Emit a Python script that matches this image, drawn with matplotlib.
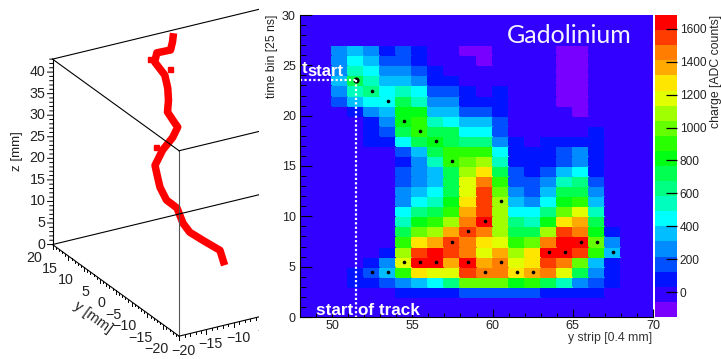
import numpy as np
import matplotlib
matplotlib.use("Agg")
import matplotlib.pyplot as plt
from matplotlib.colors import ListedColormap, BoundaryNorm
from matplotlib.patches import Rectangle
from matplotlib.ticker import MultipleLocator
from mpl_toolkits.mplot3d import proj3d

plt.rcParams["font.family"] = ["Liberation Sans", "DejaVu Sans"]

W, H = 721, 359

# 3D track, mm
track_x = [-0.2, -0.3, -2.7, -4.6, -5.3, -5.6, -7.0, -7.5, -7.4, -7.3, -5.3, -2.9,
           -1.6, -1.9, -2.6, -1.9, -1.4, -1.3, -2.4, -1.6, 0.9, 1.6, 2.2]
track_y = [-0.1, 1.2, 2.4, 3.3, 4.2, 5.6, 6.5, 7.7, 8.9, 9.6, 10.7, 11.6,
           12.3, 12.7, 13.8, 14.7, 15.8, 16.9, 18.2, 18.9, 18.9, 19.5, 20.2]
track_z = [-0.2, 2.6, 5.0, 7.0, 8.8, 11.7, 13.5, 16.0, 18.6, 20.0, 22.3, 24.1,
           25.7, 26.5, 28.7, 30.7, 32.8, 35.2, 37.9, 39.4, 39.3, 40.6, 42.1]
stray_x = [-3.1, -0.2, -6.3]
stray_y = [18.5, 17.3, 11.1]
stray_z = [38.6, 36.0, 23.1]

# heatmap, time bins 26 down to 2, strips 48..69
background = -10
charge_rows = [
    [-10, -10, 260, 350, 260, 80, 170, 80, -10, -10, -100, -100, -10, -10, -10, -10, -100, -100, -10, -10, -10, -10],
    [-10, -10, 260, 440, 350, 170, 170, 80, -10, -10, -10, -100, -10, -10, -10, -10, -100, -100, -10, -10, -10, -10],
    [-10, -10, 260, 540, 440, 260, 260, 170, 80, -10, -10, -10, -10, -10, -10, -10, -100, -100, -10, -10, -10, -10],
    [-10, -10, 350, 720, 540, 350, 350, 260, 80, 80, -10, -10, -10, -10, -10, -10, -100, -100, -10, -10, -10, -10],
    [-10, -10, 260, 540, 630, 440, 540, 440, 170, 170, 80, -10, 80, -10, -10, -10, -100, -100, -10, -10, -10, -10],
    [-10, -10, 170, 350, 440, 440, 720, 540, 260, 260, 80, 80, 80, -10, -10, -10, -100, -100, -10, -10, -10, -10],
    [-10, -10, -10, 80, 260, 350, 810, 810, 350, 350, 170, 170, 80, -10, -10, -10, -10, -100, -10, -10, -10, -10],
    [-10, -10, -10, -10, 80, 260, 810, 900, 540, 440, 350, 350, 170, -10, -10, -10, -10, -10, -10, -10, -10, -10],
    [-10, -10, -10, -10, 80, 170, 720, 900, 720, 720, 440, 440, 170, -10, -10, -10, -10, -10, 80, -10, -10, -10],
    [-10, -10, -10, -10, 80, 80, 440, 720, 810, 720, 630, 630, 260, 80, -10, 80, 80, 80, 80, -10, -10, -10],
    [-10, -10, -10, -10, -10, -10, 170, 350, 720, 900, 900, 900, 440, 80, 80, 80, 170, 260, 80, -10, -10, -10],
    [-10, -10, -10, -10, -10, -10, 80, 260, 540, 900, 990, 1090, 540, 80, 80, 80, 170, 260, 80, -10, -10, -10],
    [-10, -10, -10, -10, -10, -10, 170, 260, 350, 720, 1090, 1270, 720, 170, 80, 170, 350, 440, 80, -10, -10, -10],
    [-10, -10, -10, -10, -10, -10, 170, 260, 350, 720, 1180, 1450, 900, 170, 170, 260, 540, 630, 170, -10, -10, -10],
    [-10, -10, -10, -10, -10, -10, 260, 350, 440, 720, 1180, 1550, 990, 260, 170, 350, 720, 720, 260, -10, -10, -10],
    [-10, -10, -10, -10, -10, -10, 260, 440, 540, 810, 1270, 1550, 1090, 350, 260, 440, 810, 900, 350, -10, -10, -10],
    [-10, -10, -10, -10, -10, -10, 440, 630, 720, 900, 1360, 1550, 1090, 440, 440, 630, 990, 1180, 540, -10, -10, -10],
    [-10, -10, -10, -10, -10, -10, 540, 810, 900, 1090, 1450, 1640, 1090, 630, 540, 810, 1270, 1360, 720, -10, -10, -10],
    [-10, -10, -10, -10, -10, -10, 720, 990, 1090, 1360, 1550, 1450, 1090, 720, 720, 1090, 1550, 1450, 810, 80, -10, -10],
    [-10, -10, -10, -10, -10, -10, 900, 1270, 1360, 1550, 1450, 1270, 1180, 900, 990, 1450, 1640, 1640, 990, 260, -10, -10],
    [-10, -10, -10, -10, -10, 80, 1090, 1550, 1640, 1550, 1450, 1180, 1360, 1090, 1270, 1640, 1640, 1550, 900, 350, -10, -10],
    [-10, -10, -10, -10, 80, 260, 1180, 1640, 1640, 1360, 1640, 1360, 1450, 1180, 1270, 1550, 1450, 990, 350, 80, -10, -10],
    [-10, -10, -10, 80, 170, 350, 900, 1270, 1180, 1180, 1550, 1450, 1450, 1270, 1360, 1450, 1180, 720, 260, 80, -10, -10],
    [-10, -10, -10, 80, 80, 170, 260, 350, 440, 630, 990, 990, 990, 810, 900, 720, 540, 260, 170, 80, -10, -10],
    [-10, -10, -10, -10, -10, -10, 80, 80, 80, 80, 170, 170, 170, 170, 170, 80, 80, 80, 80, -10, -10, -10],
]

hit_strip = [52.5, 53.5, 54.5, 55.5, 56.5, 57.5, 58.5, 59.5, 60.5, 58.5, 59.5, 60.5, 61.5, 62.5,
             63.5, 64.5, 65.5, 66.5, 67.5, 52.5, 53.5, 54.5, 55.5, 56.5, 57.5]
hit_time = [4.5, 4.5, 5.5, 5.5, 5.5, 7.5, 8.5, 9.5, 11.5, 5.5, 4.5, 5.5, 4.5, 4.5,
            6.5, 6.5, 7.5, 7.5, 6.5, 22.5, 21.5, 19.5, 18.5, 17.5, 15.5]
start_strip = 51.5
start_time = 23.5

palette = ["#7800ff", "#3200ff", "#0014ff", "#0050ff", "#008cff", "#00beff", "#00ffff",
           "#00ffbe", "#00ff82", "#00ff50", "#00ff14", "#28ff00", "#64ff00", "#a0ff00",
           "#e1ff00", "#ffe600", "#ffaa00", "#ff7d00", "#ff3c00", "#ff0000"]
levels = np.linspace(-150, 1683, 21)
cbar_ticks = [0, 200, 400, 600, 800, 1000, 1200, 1400, 1600]

fig = plt.figure(figsize=(W / 100, H / 100), dpi=100, facecolor="white")


def px_box(left, top, right, bottom):
    return [left / W, (H - bottom) / H, (right - left) / W, (bottom - top) / H]


# left panel
ax3 = fig.add_axes(px_box(20, -23.4, 420, 376.6), projection="3d", proj_type="ortho", zorder=1)
ax3.set_box_aspect((253, 253, 204))
ax3.view_init(elev=24.7, azim=-120)
ax3.set_xlim(-20, 20)
ax3.set_ylim(-20, 20)
ax3.set_zlim(0, 43)
ax3.set_axis_off()
ax3.patch.set_alpha(0)
ax3.computed_zorder = False


def label3d(x, y, z, s, **kw):
    # place the label where the 3d point lands on the axes plane
    px, py, _ = proj3d.proj_transform(x, y, z, ax3.get_proj())
    ax3.text2D(px, py, s, transform=ax3.transData, fontsize=10.3, color="#222222", va="center", **kw)


ztop = 43
edges = [
    ([-20, -20], [20, 20], [0, ztop]),
    ([-20, -20], [-20, -20], [0, ztop]),
    ([-20, -20], [20, -20], [0, 0]),
    ([-20, -20], [20, -20], [ztop, ztop]),
    ([-20, 20], [-20, -20], [0, 0]),
    ([-20, 20], [-20, -20], [ztop, ztop]),
    ([-20, 20], [20, 20], [0, 0]),
    ([-20, 20], [20, 20], [ztop, ztop]),
]
ax3.plot(track_x, track_y, track_z, color="#ff0000", lw=5.4, solid_capstyle="butt",
         solid_joinstyle="round", zorder=2)
ax3.plot(stray_x, stray_y, stray_z, ls="none", marker="s", ms=3.6, color="#ff0000", zorder=2)
for ex, ey, ez in edges:
    c = "#555555" if ex[0] == ex[1] and ey[0] == ey[1] and ey[0] == -20 else "black"
    ax3.plot(ex, ey, ez, color=c, lw=0.8, zorder=3)

# z axis ticks
for z in range(0, 44):
    a = 0.91 if z % 5 == 0 else 0.5
    ax3.plot([-20, -20 - a], [20, 20], [z, z + a * 0.3], color="black", lw=0.7, zorder=3)
for z in range(0, 45, 5):
    if z <= 40:
        label3d(-21.28, 20, z + 0.39, str(z), ha="right")

# y axis ticks
for y in range(-20, 21):
    c = 0.93 if y % 5 == 0 else 0.47
    ax3.plot([-20, -20], [y, y], [0, -c], color="black", lw=0.7, zorder=3)
for y in range(-20, 21, 5):
    label3d(-21.92, y, -2.43, str(y).replace("-", "\u2212"), ha="right")

# x axis ticks
for x in range(-20, 21):
    c = 0.93 if x % 5 == 0 else 0.47
    ax3.plot([x, x], [-20, -20], [0, -c], color="black", lw=0.7, zorder=3)
for x in [-20, -15, -10, -5]:
    label3d(x + 0.8, -20, -3.7, str(x).replace("-", "\u2212"), ha="center")

fig.text(17 / W, 1 - 151 / H, "z [mm]", rotation=90, ha="center", va="center", fontsize=9.6, color="#222222")
fig.text(93 / W, 1 - 317 / H, "y [mm]", rotation=-36, ha="center", va="center",
         rotation_mode="anchor", fontsize=10.5, color="#222222")

# hide the part of the box running under the right panel
fig.add_artist(Rectangle((259 / W, 0), 1 - 259 / W, 1, transform=fig.transFigure,
                         facecolor="white", edgecolor="none", zorder=2))

# right panel
ax = fig.add_axes(px_box(300, 15, 653, 317), zorder=3)
cmap = ListedColormap(palette)
norm = BoundaryNorm(levels, cmap.N)
charge = np.full((30, 22), float(background))
charge[2:27] = np.array(charge_rows)[::-1]
mesh = ax.pcolormesh(np.arange(48, 71), np.arange(0, 31), charge, cmap=cmap, norm=norm,
                     edgecolors="face", linewidth=0.1)
ax.set_xlim(48, 70)
ax.set_ylim(0, 30)

ax.plot(hit_strip, hit_time, ls="none", marker="o", ms=2.6, color="black", mew=0)
ax.plot([start_strip], [start_time], ls="none", marker="o", ms=4.4, color="black", mew=0)
ax.plot([48, start_strip], [start_time, start_time], color="white", lw=1.6, ls=(0, (1, 1)))
ax.plot([start_strip, start_strip], [start_time, 0], color="white", lw=1.6, ls=(0, (1, 1)))

ax.text(48.1, 24.2, "t", color="white", fontweight="bold", fontsize=12, ha="left", va="baseline")
ax.text(48.45, 23.9, "start", color="white", fontweight="bold", fontsize=12, ha="left", va="baseline")
ax.text(49.0, 0.2, "start of track", color="white", fontweight="bold", fontsize=12.3,
        ha="left", va="baseline")
ax.text(64.8, 27.2, "Gadolinium", color="#f4f4ff", fontsize=18, family="Lato",
        ha="center", va="baseline")

ax.xaxis.set_major_locator(MultipleLocator(5))
ax.xaxis.set_minor_locator(MultipleLocator(1))
ax.yaxis.set_major_locator(MultipleLocator(5))
ax.yaxis.set_minor_locator(MultipleLocator(1))
ax.tick_params(axis="x", which="major", direction="in", length=5.5, width=0.8, labelsize=9,
               pad=2.5, labelcolor="#222222")
ax.tick_params(axis="x", which="minor", direction="in", length=2.6, width=0.7)
ax.tick_params(axis="y", which="major", direction="in", length=8.6, width=0.8, labelsize=9,
               pad=3, labelcolor="#222222")
ax.tick_params(axis="y", which="minor", direction="in", length=4.3, width=0.7)
for name in ["top", "right"]:
    ax.spines[name].set_visible(False)
ax.spines["left"].set_linewidth(0.8)
ax.spines["bottom"].set_linewidth(0.8)

fig.text(272 / W, 1 - 15 / H, "time bin [25 ns]", rotation=90, ha="center", va="top", fontsize=8.8,
         color="#222222", zorder=4)
fig.text(652 / W, 1 - 338 / H, "y strip [0.4 mm]", ha="right", va="center", fontsize=8.8,
         color="#333333", zorder=4)
fig.text(716 / W, 1 - 15 / H, "charge [ADC counts]", rotation=90, ha="center", va="top", fontsize=8.8,
         color="#222222", zorder=4)

# colour scale
cax = fig.add_axes(px_box(654.5, 15, 677, 317), zorder=3)
cb = fig.colorbar(mesh, cax=cax, ticks=cbar_ticks, drawedges=False, spacing="proportional")
cb.outline.set_visible(False)
cax.minorticks_off()
cax.tick_params(axis="y", direction="in", length=8, width=0.9, labelsize=8.6, pad=2, labelcolor="#222222",
                color="black")

fig.savefig("out.png", dpi=100)
